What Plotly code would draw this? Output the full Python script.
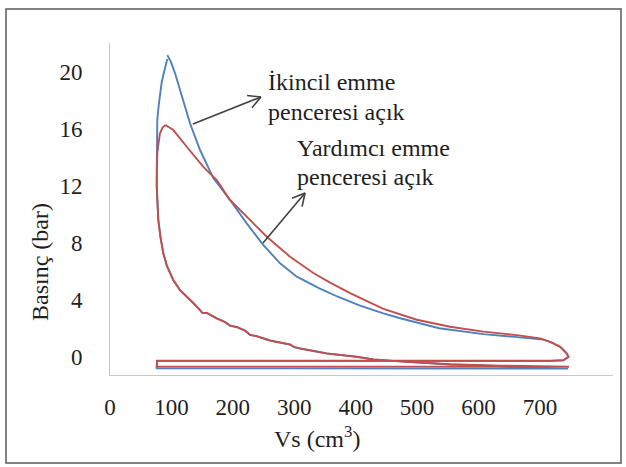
import math
import plotly.graph_objects as go

# ---------------- data ----------------
# Yardımcı emme penceresi açık (red)
red_vs = [90.4, 103.1, 124.9, 152.0, 173.8, 195.4, 222.6, 255.2, 293.2, 331.1, 358.3, 390.9,
          445.1, 499.5, 553.7, 608.0, 662.4, 700.3, 716.6, 732.9, 743.8, 746.4, 738.3, 716.6,
          76.5, 76.1, 745.9,
          745.9, 635.2, 553.7, 483.2, 428.8, 401.8, 352.9, 309.4, 300.0, 293.2, 281.8, 270.0,
          260.6, 238.9, 228.0, 219.9, 206.4, 196.0, 187.3, 173.8, 158.0, 150.0, 146.6, 135.7,
          124.9, 114.0, 103.1, 92.8, 86.8, 82.2, 78.7, 77.0, 76.1, 76.3, 77.0, 79.0, 81.4,
          85.5, 90.4]
red_p = [16.28, 15.93, 14.76, 13.35, 12.42, 11.02, 9.85, 8.44, 7.04, 5.90, 5.22, 4.48,
         3.38, 2.62, 2.13, 1.78, 1.54, 1.31, 1.07, 0.72, 0.26, 0.02, -0.21, -0.25,
         -0.25, -0.67, -0.67,
         -0.68, -0.60, -0.51, -0.33, -0.16, 0.02, 0.26, 0.61, 0.70, 0.88, 0.98, 1.05,
         1.16, 1.47, 1.56, 1.86, 2.11, 2.20, 2.46, 2.72, 3.09, 3.12, 3.30, 3.79,
         4.23, 4.70, 5.40, 6.39, 7.28, 8.42, 9.61, 10.81, 11.95, 13.12, 14.29, 15.02, 15.70,
         16.11, 16.28]

# İkincil emme penceresi açık (blue)
blue_vs = [93.3, 99.3, 105.9, 116.8, 130.3, 146.6, 168.2, 195.4, 222.6, 249.7, 276.9, 304.1,
           341.0, 370.0, 406.0, 445.1, 471.0, 536.0, 553.7, 608.0, 662.4, 705.2, 719.9, 734.5,
           744.3, 746.4, 737.8, 716.6,
           76.5, 76.1, 745.9,
           745.9, 635.2, 553.7, 483.2, 428.8, 401.8, 352.9, 309.4, 300.0, 293.2, 281.8, 270.0,
           260.6, 238.9, 228.0, 219.9, 206.4, 196.0, 187.3, 173.8, 158.0, 150.0, 146.6, 135.7,
           124.9, 114.0, 103.1, 92.8, 86.8, 82.2, 78.7, 77.0, 76.1, 76.1, 76.1, 76.5, 77.0,
           79.0, 81.4, 83.9, 86.8, 90.1, 93.3]
blue_p = [21.19, 20.70, 19.91, 18.27, 16.40, 14.53, 12.56, 11.02, 9.38, 7.86, 6.58, 5.64,
          4.82, 4.25, 3.62, 3.07, 2.74, 2.02, 1.91, 1.61, 1.40, 1.22, 1.02, 0.67,
          0.21, -0.01, -0.25, -0.28,
          -0.28, -0.79, -0.81,
          -0.80, -0.62, -0.52, -0.34, -0.17, 0.01, 0.25, 0.60, 0.69, 0.87, 0.97, 1.04,
          1.15, 1.46, 1.55, 1.85, 2.10, 2.19, 2.45, 2.71, 3.08, 3.11, 3.29, 3.78,
          4.22, 4.69, 5.39, 6.38, 7.27, 8.41, 9.60, 10.80, 11.94, 13.12, 14.29, 15.46, 16.63,
          17.56, 18.39, 19.21, 19.79, 20.37, 20.91, 21.19]

x_ticks = [0, 100, 200, 300, 400, 500, 600, 700]
y_ticks = [0, 4, 8, 12, 16, 20]

label_1 = ["İkincil emme", "penceresi açık"]
label_2 = ["Yardımcı emme", "penceresi açık"]

# ---------------- layout geometry ----------------
W, H = 626, 467
L, R, T, B = 110, 13, 43, 92
XR = [0, 819]
YR = [-1.26, 22.04]
pw, ph = W - L - R, H - T - B


def px2x(px):
    return XR[0] + (px - L) / pw * (XR[1] - XR[0])


def py2y(py):
    return YR[1] - (py - T) / ph * (YR[1] - YR[0])


def ppx(px):
    return (px - L) / pw


def ppy(py):
    return (H - B - py) / ph


FONT = "Liberation Serif"
TXT = "#1f1f1f"
RED = "#C0504D"
BLUE = "#4F81BD"
ARROW = "#404040"

fig = go.Figure()
fig.add_trace(go.Scatter(x=blue_vs, y=blue_p, mode="lines",
                         line=dict(color=BLUE, width=1.9), name="İkincil emme penceresi açık",
                         hoverinfo="skip"))
fig.add_trace(go.Scatter(x=red_vs, y=red_p, mode="lines",
                         line=dict(color=RED, width=1.9), name="Yardımcı emme penceresi açık",
                         hoverinfo="skip"))

shapes = []


def arrow(tail, head, L_head=14, ang=28):
    (tx, ty), (hx, hy) = tail, head
    shapes.append(dict(type="line", xref="x", yref="y",
                       x0=px2x(tx), y0=py2y(ty), x1=px2x(hx), y1=py2y(hy),
                       line=dict(color=ARROW, width=1.6)))
    a = math.atan2(ty - hy, tx - hx)
    for s in (-1, 1):
        b = a + s * math.radians(ang)
        ex, ey = hx + L_head * math.cos(b), hy + L_head * math.sin(b)
        shapes.append(dict(type="line", xref="x", yref="y",
                           x0=px2x(hx), y0=py2y(hy), x1=px2x(ex), y1=py2y(ey),
                           line=dict(color=ARROW, width=1.6)))


arrow((193, 124), (261, 97))
arrow((263, 243), (305, 193))

# outer frame
shapes.append(dict(type="rect", xref="paper", yref="paper",
                   x0=ppx(6), x1=ppx(621), y0=ppy(463), y1=ppy(9),
                   line=dict(color="#595959", width=1.5), layer="below"))

annotations = []
for txt, yc in zip(label_1, [82, 112]):
    annotations.append(dict(text=txt, xref="paper", yref="paper", x=ppx(266), y=ppy(yc),
                            xanchor="left", yanchor="middle", showarrow=False,
                            font=dict(family=FONT, size=24, color=TXT)))
for txt, yc in zip(label_2, [148, 177]):
    annotations.append(dict(text=txt, xref="paper", yref="paper", x=ppx(295), y=ppy(yc),
                            xanchor="left", yanchor="middle", showarrow=False,
                            font=dict(family=FONT, size=24, color=TXT)))
annotations.append(dict(text="Basınç (bar)", xref="paper", yref="paper", x=ppx(40), y=ppy(262),
                        xanchor="center", yanchor="middle", textangle=-90, showarrow=False,
                        font=dict(family=FONT, size=24, color=TXT)))
annotations.append(dict(text="Vs (cm<sup>3</sup>)", xref="paper", yref="paper", x=ppx(317), y=ppy(437),
                        xanchor="center", yanchor="middle", showarrow=False,
                        font=dict(family=FONT, size=24, color=TXT)))

fig.update_layout(
    width=W, height=H,
    margin=dict(l=L, r=R, t=T, b=B),
    paper_bgcolor="white", plot_bgcolor="white",
    showlegend=False,
    shapes=shapes, annotations=annotations,
    font=dict(family=FONT, size=23, color=TXT),
    xaxis=dict(range=XR, tickvals=x_ticks, ticktext=[str(v) for v in x_ticks],
               showgrid=False, zeroline=False, showline=True, linecolor="#c8c8c8", linewidth=1,
               ticks="outside", ticklen=11, tickcolor="rgba(0,0,0,0)",
               tickfont=dict(family=FONT, size=23, color=TXT), fixedrange=True),
    yaxis=dict(range=YR, tickvals=y_ticks, ticktext=[str(v) for v in y_ticks],
               showgrid=False, zeroline=False, showline=True, linecolor="#c8c8c8", linewidth=1,
               ticks="outside", ticklen=22, tickcolor="rgba(0,0,0,0)",
               tickfont=dict(family=FONT, size=23, color=TXT), fixedrange=True),
)

fig.write_html("out.html", config=dict(displayModeBar=False))
